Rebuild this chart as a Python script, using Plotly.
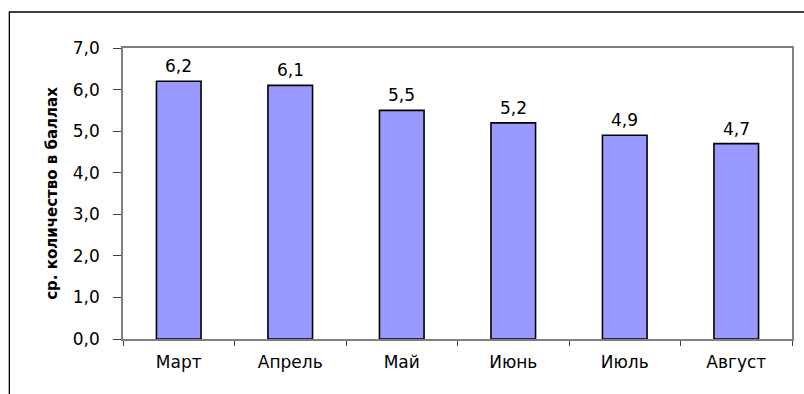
import plotly.graph_objects as go

months = ["Март", "Апрель", "Май", "Июнь", "Июль", "Август"]
scores = [6.2, 6.1, 5.5, 5.2, 4.9, 4.7]
y_ticks = [0, 1, 2, 3, 4, 5, 6, 7]

W, H = 804, 394
L, R, T, B = 123, 10, 48, 55
pw, ph = W - L - R, H - T - B
FONT = "DejaVu Sans"

fig = go.Figure(
    go.Bar(
        x=months,
        y=scores,
        width=0.4,
        marker=dict(color="#9999FF", line=dict(color="#000000", width=1.6)),
        hoverinfo="x+y",
    )
)

# value labels above each bar
for m, v in zip(months, scores):
    fig.add_annotation(
        x=m, y=v, text=f"{v:.1f}".replace(".", ","),
        showarrow=False, yanchor="bottom", yshift=3,
        font=dict(family=FONT, size=17, color="#000000"),
    )

# outer chart frame, running off the right and bottom edges
fig.add_shape(
    type="rect", xref="paper", yref="paper",
    x0=(9 - L) / pw, x1=(W + 10 - L) / pw,
    y0=-(H + 10 - T - ph) / ph, y1=1 + (T - 12) / ph,
    line=dict(color="#000000", width=1.3), layer="below",
)

fig.update_layout(
    width=W, height=H,
    margin=dict(l=L, r=R, t=T, b=B),
    paper_bgcolor="white", plot_bgcolor="white",
    separators=", ",
    showlegend=False,
    font=dict(family=FONT, size=17, color="#000000"),
)
fig.update_xaxes(
    showline=True, linecolor="#808080", linewidth=1.5, mirror=True,
    ticks="outside", tickson="boundaries", ticklen=5, tickcolor="#404040",
    ticklabelstandoff=7,
    showgrid=False,
    tickfont=dict(family=FONT, size=17),
)
fig.update_yaxes(
    range=[0, 7], tickvals=y_ticks, tickformat=".1f",
    showline=True, linecolor="#808080", linewidth=1.5, mirror=True,
    ticks="outside", ticklen=8, tickcolor="#404040",
    ticklabelstandoff=10,
    showgrid=False, zeroline=False,
    tickfont=dict(family=FONT, size=17),
    title=dict(
        text="<b>ср. количество в баллах</b>",
        font=dict(family=FONT, size=15),
        standoff=12,
    ),
)

fig.write_html("out.html")
